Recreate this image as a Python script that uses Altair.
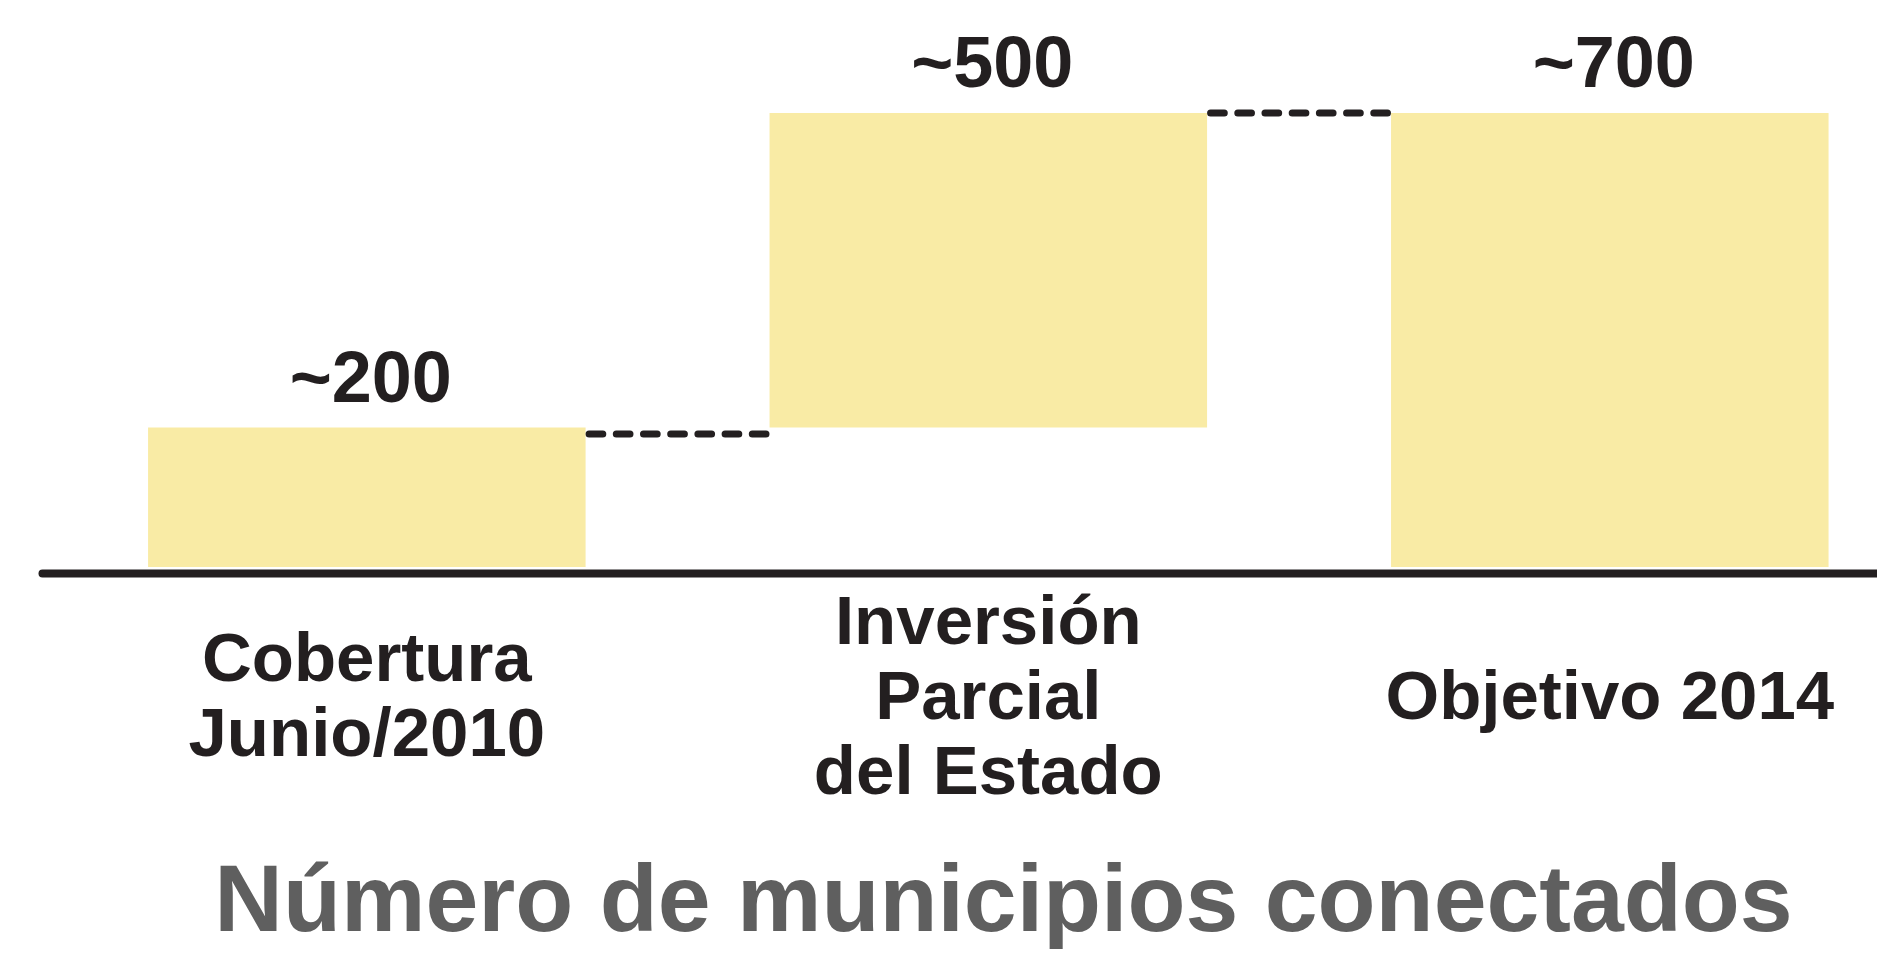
import altair as alt
import pandas as pd

# ---- data ----
categories = ["Cobertura|Junio/2010", "Inversión|Parcial|del Estado", "Objetivo 2014"]
bar_start = [0, 215, 0]
bar_end = [215, 700, 700]
value_labels = ["~200", "~500", "~700"]

connector_from = ["Cobertura|Junio/2010", "Inversión|Parcial|del Estado"]
connector_to = ["Inversión|Parcial|del Estado", "Objetivo 2014"]
connector_level = [205, 700]

axis_title = "Número de municipios conectados"

bars_df = pd.DataFrame({"cat": categories, "start": bar_start, "end": bar_end, "label": value_labels})
conn_df = pd.DataFrame({"from": connector_from, "to": connector_to, "level": connector_level})

FONT = "Liberation Sans"
INK = "#231f20"
LINE_H = 75
PAD = 124

xscale = alt.Scale(domain=categories, paddingInner=0.296, paddingOuter=0.1243, align=0.6865)
yscale = alt.Scale(domain=[0, 700], nice=False, zero=True)

n_lines = "length(split(datum.label, '|'))"

x_axis = alt.Axis(
    title=axis_title,
    labelExpr="split(datum.label, '|')",
    labelAngle=0,
    labelFont=FONT,
    labelFontSize=69,
    labelFontWeight="bold",
    labelColor=INK,
    labelBaseline="middle",
    labelPadding={
        "condition": [
            {"test": f"{n_lines} == 3", "value": PAD - LINE_H},
            {"test": f"{n_lines} == 2", "value": PAD - LINE_H / 2},
        ],
        "value": PAD,
    },
    labelLineHeight=LINE_H,
    labelLimit=2000,
    labelOverlap=False,
    ticks=False,
    tickSize=0,
    domain=True,
    domainColor=INK,
    domainWidth=8,
    domainCap="round",
    offset=6,
    grid=False,
    titleFont=FONT,
    titleFontSize=95,
    titleFontWeight="bold",
    titleColor="#5f5f5f",
    titleX=961,
    titleY=357,
    titleAlign="center",
    titleBaseline="alphabetic",
    titleAngle=0,
)

bars = alt.Chart(bars_df).mark_bar(color="#F9EBA5").encode(
    x=alt.X("cat:N", scale=xscale, axis=x_axis, sort=categories),
    y=alt.Y("start:Q", scale=yscale, axis=None),
    y2="end:Q",
)

conns = alt.Chart(conn_df).mark_rule(
    strokeWidth=7, strokeDash=[13.7, 13.5], strokeDashOffset=-3.5,
    strokeCap="round", color=INK
).encode(
    x=alt.X("from:N", scale=xscale, axis=x_axis, bandPosition=1, sort=categories),
    x2=alt.X2("to", bandPosition=0),
    y=alt.Y("level:Q", scale=yscale, axis=None),
)

labels = alt.Chart(bars_df).mark_text(
    font=FONT, fontSize=72, fontWeight="bold", color=INK,
    baseline="alphabetic", align="center", dy=-26, dx=4
).encode(
    x=alt.X("cat:N", scale=xscale, axis=x_axis, sort=categories),
    y=alt.Y("end:Q", scale=yscale, axis=None),
    text="label:N",
)

chart = alt.layer(bars, conns, labels).properties(
    width=1835,
    height=454,
    autosize=alt.AutoSizeParams(type="none"),
    padding={"left": 34, "top": 105, "right": 0, "bottom": 382},
    background="white",
).configure_view(stroke=None)

chart.save("out.html", embed_options={"renderer": "svg", "actions": False})
